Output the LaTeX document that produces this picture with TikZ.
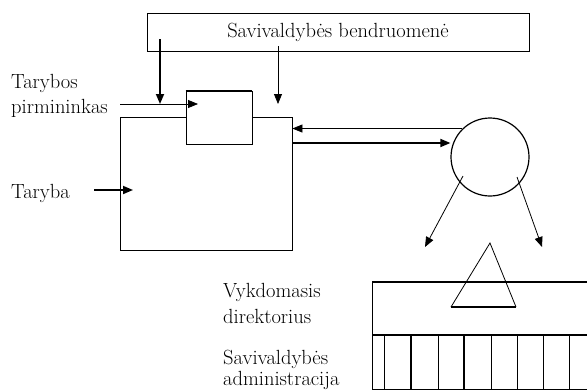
\documentclass[tikz,border=0pt]{standalone}
\usetikzlibrary{arrows.meta}
\begin{document}
\begin{tikzpicture}[x=1pt,y=-1pt,>={Triangle[length=10pt,width=8pt]},font=\fontsize{20.5}{25}\selectfont,
	plonas/.style={line width=0.8pt},
	storas/.style={line width=1.7pt},
	tekstas/.style={anchor=base west,inner sep=0pt}]
	\useasboundingbox (0,0) rectangle (587,391);
	% bendruomene virsuje
	\node[draw,plonas,minimum width=382pt,minimum height=38pt,inner sep=0pt] (bendr) at (338,32) {Savivaldybės bendruomenė};
	% taryba ir pirmininko langelis
	\node[draw,plonas,minimum width=172pt,minimum height=133pt,inner sep=0pt] (tbox) at (206,183.5) {};
	\node[draw,plonas,fill=white,minimum width=66pt,minimum height=53pt,inner sep=0pt] (pbox) at (219,117.5) {};
	\draw[storas] (pbox.north west) -- (pbox.north east);
	% kaires puses uzrasai
	\node[tekstas] (tp1) at (11,88) {Tarybos};
	\node[tekstas] (tp2) at (11,113) {pirmininkas};
	\node[tekstas] (tar) at (11,198) {Taryba};
	\path
	(120,104) coordinate (pL)
	(198,104) coordinate (pR)
	(94,190) coordinate (tL)
	(133,190) coordinate (tR)
	(160,39) coordinate (v1)
	(278,46) coordinate (v2);
	\draw[plonas,->] (pL) -- (pR);
	\draw[storas,->] (tL) -- (tR);
	\draw[storas,->] (v1) -- (v1 |- pL);
	\draw[plonas,->] (v2) -- (v2 |- pL);
	% direktorius (apskritimas)
	\node[draw,circle,line width=1.2pt,minimum size=78pt,inner sep=0pt] (dir) at (490,157) {};
	\draw[plonas,->] (dir.134) -- (dir.134 -| tbox.east);
	\draw[storas,->] ([yshift=40.5pt]tbox.east) -- ++(158,0);
	\path
	(463,176) coordinate (dL)
	(425,247) coordinate (dLe)
	(517,177) coordinate (dR)
	(542,247) coordinate (dRe);
	\draw[plonas,->] (dL) -- (dLe);
	\draw[plonas,->] (dR) -- (dRe);
	% administracija apacioje
	\draw[storas] (372,282) -- (587,282);
	\draw[storas] (372,335) -- (587,335);
	\draw[plonas] (587,389) -- (372,389) -- (372,282);
	\foreach \x/\w in {384/0.9,411/1.5,438/0.9,464/1.5,491/0.9,517/0.9,543/0.9,569/0.9}
		\draw[line width=\w pt] (\x,335) -- (\x,389);
	% trikampis
	\draw[plonas] (451,307) -- (490,243) -- (516,307);
	\draw[storas] (451,307) -- (516,307);
	\node[tekstas] (vd1) at (223,297) {Vykdomasis};
	\node[tekstas] (vd2) at (223,323) {direktorius};
	\node[tekstas] (sa1) at (223,364) {Savivaldybės};
	\node[tekstas] (sa2) at (223,385) {administracija};
\end{tikzpicture}
\end{document}
